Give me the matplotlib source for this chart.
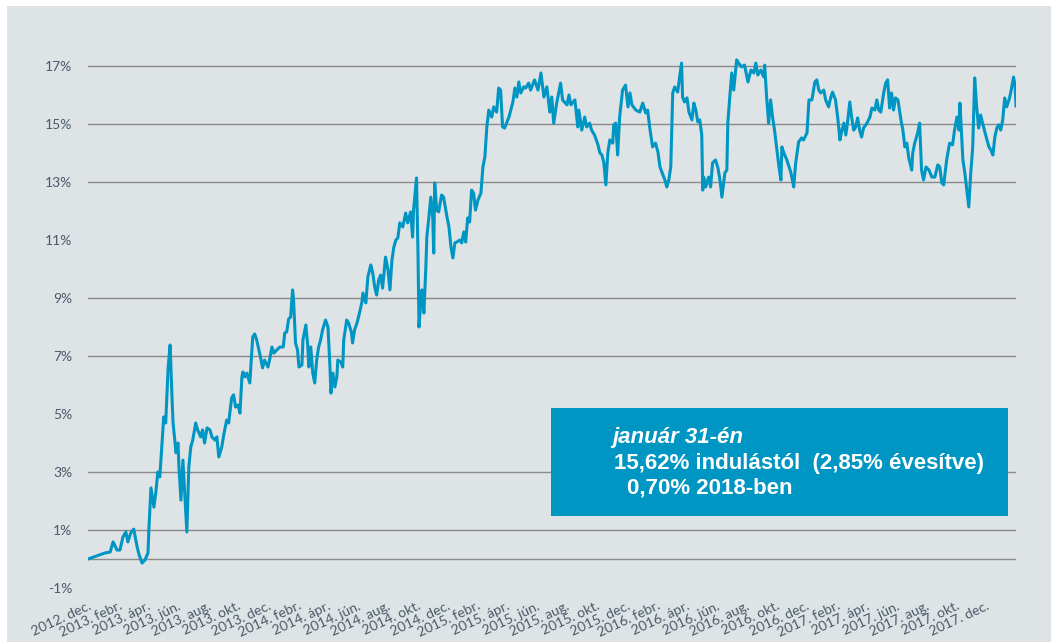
import numpy as np
import pandas as pd
import matplotlib
matplotlib.use("Agg")
import matplotlib.pyplot as plt
from matplotlib.patches import Rectangle

# cumulative return of the fund (%)
dates = [
    "2012-12-01", "2013-01-05", "2013-01-15", "2013-01-21", "2013-01-29", "2013-02-04", "2013-02-10", "2013-02-16",
    "2013-02-20", "2013-02-26", "2013-03-04", "2013-03-11", "2013-03-15", "2013-03-21", "2013-03-27", "2013-04-02",
    "2013-04-04", "2013-04-08", "2013-04-14", "2013-04-18", "2013-04-22", "2013-04-26", "2013-04-30", "2013-05-04",
    "2013-05-08", "2013-05-13", "2013-05-17", "2013-05-21", "2013-05-23", "2013-05-29", "2013-06-02", "2013-06-04",
    "2013-06-08", "2013-06-12", "2013-06-16", "2013-06-20", "2013-06-24", "2013-06-28", "2013-07-02", "2013-07-08",
    "2013-07-12", "2013-07-18", "2013-07-22", "2013-07-26", "2013-07-31", "2013-08-06", "2013-08-10", "2013-08-16",
    "2013-08-20", "2013-08-24", "2013-08-30", "2013-09-03", "2013-09-09", "2013-09-13", "2013-09-19", "2013-09-23",
    "2013-09-27", "2013-10-02", "2013-10-06", "2013-10-10", "2013-10-12", "2013-10-16", "2013-10-20", "2013-10-26",
    "2013-11-01", "2013-11-05", "2013-11-09", "2013-11-15", "2013-11-21", "2013-11-25", "2013-12-02", "2013-12-06",
    "2013-12-10", "2013-12-14", "2013-12-20", "2013-12-26", "2014-01-02", "2014-01-05", "2014-01-09", "2014-01-13",
    "2014-01-17", "2014-01-21", "2014-01-23", "2014-01-27", "2014-01-31", "2014-02-03", "2014-02-09", "2014-02-11",
    "2014-02-17", "2014-02-21", "2014-02-23", "2014-02-27", "2014-03-03", "2014-03-07", "2014-03-11", "2014-03-15",
    "2014-03-19", "2014-03-23", "2014-03-29", "2014-04-03", "2014-04-07", "2014-04-09", "2014-04-13", "2014-04-17",
    "2014-04-21", "2014-04-23", "2014-04-29", "2014-05-03", "2014-05-05", "2014-05-11", "2014-05-15", "2014-05-21",
    "2014-05-23", "2014-05-27", "2014-06-01", "2014-06-05", "2014-06-11", "2014-06-13", "2014-06-19", "2014-06-23",
    "2014-06-29", "2014-07-03", "2014-07-07", "2014-07-11", "2014-07-15", "2014-07-19", "2014-07-23", "2014-07-29",
    "2014-08-03", "2014-08-07", "2014-08-11", "2014-08-15", "2014-08-19", "2014-08-23", "2014-08-27", "2014-09-02",
    "2014-09-08", "2014-09-12", "2014-09-18", "2014-09-22", "2014-09-24", "2014-09-30", "2014-10-03", "2014-10-05",
    "2014-10-09", "2014-10-11", "2014-10-15", "2014-10-19", "2014-10-21", "2014-10-25", "2014-10-29", "2014-11-02",
    "2014-11-04", "2014-11-06", "2014-11-10", "2014-11-14", "2014-11-20", "2014-11-24", "2014-12-01", "2014-12-05",
    "2014-12-09", "2014-12-13", "2014-12-17", "2014-12-21", "2014-12-27", "2014-12-31", "2015-01-04", "2015-01-08",
    "2015-01-12", "2015-01-16", "2015-01-20", "2015-01-24", "2015-01-28", "2015-02-02", "2015-02-08", "2015-02-12",
    "2015-02-16", "2015-02-20", "2015-02-24", "2015-03-02", "2015-03-06", "2015-03-12", "2015-03-16", "2015-03-20",
    "2015-03-24", "2015-03-28", "2015-04-06", "2015-04-14", "2015-04-18", "2015-04-22", "2015-04-26", "2015-04-30",
    "2015-05-06", "2015-05-10", "2015-05-16", "2015-05-20", "2015-05-28", "2015-06-04", "2015-06-10", "2015-06-16",
    "2015-06-22", "2015-06-28", "2015-07-02", "2015-07-06", "2015-07-12", "2015-07-20", "2015-07-24", "2015-08-02",
    "2015-08-06", "2015-08-10", "2015-08-18", "2015-08-24", "2015-08-26", "2015-09-01", "2015-09-07", "2015-09-11",
    "2015-09-17", "2015-09-21", "2015-09-27", "2015-10-04", "2015-10-08", "2015-10-12", "2015-10-16", "2015-10-20",
    "2015-10-24", "2015-10-28", "2015-11-03", "2015-11-05", "2015-11-09", "2015-11-13", "2015-11-17", "2015-11-23",
    "2015-11-29", "2015-12-04", "2015-12-08", "2015-12-12", "2015-12-20", "2015-12-28", "2016-01-03", "2016-01-09",
    "2016-01-13", "2016-01-17", "2016-01-23", "2016-01-29", "2016-02-03", "2016-02-07", "2016-02-11", "2016-02-17",
    "2016-02-21", "2016-02-25", "2016-02-29", "2016-03-04", "2016-03-08", "2016-03-14", "2016-03-18", "2016-03-22",
    "2016-03-24", "2016-03-28", "2016-04-02", "2016-04-06", "2016-04-12", "2016-04-16", "2016-04-20", "2016-04-24",
    "2016-04-28", "2016-05-02", "2016-05-04", "2016-05-06", "2016-05-10", "2016-05-16", "2016-05-20", "2016-05-24",
    "2016-05-30", "2016-06-04", "2016-06-08", "2016-06-12", "2016-06-18", "2016-06-22", "2016-06-24", "2016-06-28",
    "2016-07-02", "2016-07-06", "2016-07-12", "2016-07-16", "2016-07-22", "2016-07-28", "2016-08-04", "2016-08-10",
    "2016-08-16", "2016-08-20", "2016-08-24", "2016-08-30", "2016-09-05", "2016-09-07", "2016-09-11", "2016-09-15",
    "2016-09-19", "2016-09-23", "2016-09-27", "2016-10-02", "2016-10-06", "2016-10-10", "2016-10-12", "2016-10-16",
    "2016-10-22", "2016-10-30", "2016-11-05", "2016-11-09", "2016-11-15", "2016-11-21", "2016-11-25", "2016-12-02",
    "2016-12-06", "2016-12-12", "2016-12-18", "2016-12-22", "2016-12-26", "2016-12-30", "2017-01-05", "2017-01-09",
    "2017-01-15", "2017-01-19", "2017-01-23", "2017-01-29", "2017-02-03", "2017-02-07", "2017-02-11", "2017-02-15",
    "2017-02-19", "2017-02-23", "2017-02-27", "2017-03-03", "2017-03-07", "2017-03-11", "2017-03-15", "2017-03-19",
    "2017-03-23", "2017-03-27", "2017-04-03", "2017-04-09", "2017-04-13", "2017-04-19", "2017-04-23", "2017-04-27",
    "2017-05-01", "2017-05-07", "2017-05-11", "2017-05-15", "2017-05-19", "2017-05-23", "2017-05-27", "2017-05-31",
    "2017-06-05", "2017-06-11", "2017-06-15", "2017-06-19", "2017-06-23", "2017-06-27", "2017-07-03", "2017-07-05",
    "2017-07-09", "2017-07-15", "2017-07-19", "2017-07-23", "2017-07-27", "2017-08-01", "2017-08-07", "2017-08-13",
    "2017-08-19", "2017-08-25", "2017-08-29", "2017-09-02", "2017-09-06", "2017-09-12", "2017-09-18", "2017-09-24",
    "2017-09-28", "2017-10-03", "2017-10-07", "2017-10-09", "2017-10-13", "2017-10-15", "2017-10-19", "2017-10-23",
    "2017-10-27", "2017-10-31", "2017-11-04", "2017-11-08", "2017-11-12", "2017-11-16", "2017-11-20", "2017-11-24",
    "2017-12-03", "2017-12-07", "2017-12-11", "2017-12-15", "2017-12-19", "2017-12-23", "2017-12-27", "2017-12-31",
    "2018-01-04", "2018-01-08", "2018-01-12", "2018-01-18", "2018-01-22", "2018-01-26", "2018-01-29", "2018-01-31",
]
values = [
    0.00, 0.21, 0.24, 0.59, 0.31, 0.31, 0.76, 0.93,
    0.59, 0.90, 1.03, 0.41, 0.14, -0.14, -0.03, 0.21,
    1.10, 2.45, 1.79, 2.31, 3.00, 2.83, 3.86, 4.90,
    4.69, 6.62, 7.38, 5.48, 4.69, 3.66, 4.00, 3.17,
    2.03, 3.41, 2.14, 0.93, 3.17, 3.86, 4.10, 4.69,
    4.45, 4.21, 4.45, 4.00, 4.52, 4.45, 4.21, 4.10,
    4.21, 3.52, 3.86, 4.28, 4.79, 4.69, 5.55, 5.66,
    5.24, 5.31, 5.03, 6.28, 6.45, 6.28, 6.41, 6.07,
    7.66, 7.76, 7.55, 7.10, 6.59, 6.86, 6.62, 6.93,
    7.31, 7.10, 7.21, 7.31, 7.31, 7.79, 7.83, 8.28,
    8.34, 9.28, 8.93, 7.45, 7.21, 6.62, 6.69, 7.55,
    8.07, 7.31, 6.62, 7.31, 6.41, 6.07, 6.86, 7.31,
    7.55, 7.90, 8.24, 8.00, 6.62, 5.72, 6.41, 5.93,
    6.28, 6.86, 6.79, 6.62, 7.55, 8.24, 8.14, 7.79,
    7.45, 7.90, 8.14, 8.41, 8.86, 9.17, 8.83, 9.72,
    10.14, 9.86, 9.38, 9.10, 9.62, 9.79, 9.34, 10.41,
    9.97, 9.28, 10.31, 10.76, 11.00, 11.07, 11.59, 11.45,
    11.93, 11.59, 11.97, 11.10, 12.03, 13.14, 10.55, 8.00,
    8.93, 9.28, 8.48, 10.07, 11.10, 11.76, 12.48, 11.79,
    10.55, 12.97, 12.03, 11.97, 12.55, 12.48, 11.79, 11.45,
    10.76, 10.38, 10.90, 10.93, 11.00, 10.90, 11.28, 10.93,
    11.76, 11.62, 12.72, 12.62, 12.03, 12.38, 12.62, 13.52,
    13.86, 14.90, 15.48, 15.24, 15.59, 15.41, 16.24, 16.17,
    14.90, 14.86, 15.24, 15.76, 16.24, 15.93, 16.45, 16.07,
    16.28, 16.24, 16.41, 16.17, 16.52, 16.17, 16.76, 15.93,
    16.28, 15.41, 15.93, 15.03, 15.72, 16.41, 15.83, 15.66,
    16.00, 15.66, 15.83, 14.90, 15.48, 14.79, 15.24, 14.90,
    15.03, 14.79, 14.62, 14.28, 14.00, 13.93, 13.66, 12.90,
    14.00, 14.45, 14.34, 14.97, 15.03, 13.93, 15.24, 16.17,
    16.34, 15.59, 16.07, 15.66, 15.48, 15.41, 15.72, 15.38,
    15.48, 14.90, 14.21, 14.34, 14.03, 13.52, 13.34, 13.07,
    12.83, 13.07, 13.52, 16.07, 16.28, 16.10, 16.62, 17.10,
    15.93, 15.76, 15.90, 15.41, 15.14, 15.72, 15.48, 15.07,
    15.14, 14.62, 12.72, 13.17, 12.83, 13.17, 12.83, 13.66,
    13.76, 13.48, 13.07, 12.48, 13.31, 13.41, 15.03, 15.93,
    16.76, 16.17, 17.21, 17.10, 16.97, 17.03, 16.45, 16.86,
    16.76, 17.10, 16.69, 16.86, 16.62, 17.03, 15.90, 15.03,
    15.83, 15.24, 14.79, 14.10, 13.52, 13.07, 14.21, 14.00,
    13.76, 13.34, 12.83, 13.66, 14.38, 14.52, 14.45, 14.69,
    15.83, 15.83, 16.45, 16.52, 16.17, 16.07, 16.17, 15.83,
    15.59, 15.90, 16.10, 15.83, 15.14, 14.45, 14.79, 15.03,
    14.62, 15.14, 15.76, 15.21, 14.79, 14.90, 15.21, 14.79,
    14.55, 14.86, 15.03, 15.24, 15.55, 15.48, 15.83, 15.48,
    15.41, 16.07, 16.41, 16.52, 15.55, 16.07, 15.48, 15.90,
    15.83, 15.14, 14.79, 14.21, 14.34, 13.83, 13.41, 14.00,
    14.34, 14.69, 15.03, 13.41, 13.07, 13.52, 13.41, 13.17,
    13.17, 13.59, 13.52, 12.97, 12.90, 13.76, 14.34, 14.28,
    14.79, 15.24, 14.79, 15.72, 14.45, 13.76, 13.31, 12.72,
    12.14, 13.31, 14.21, 16.59, 15.59, 14.86, 15.31, 15.03,
    14.45, 14.21, 14.10, 13.93, 14.55, 14.86, 14.97, 14.79,
    15.14, 15.90, 15.59, 15.90, 16.24, 16.62, 16.34, 15.62,
]

y_ticks = [-1, 1, 3, 5, 7, 9, 11, 13, 15, 17]
grid_levels = [0, 1, 3, 7, 9, 13, 15, 17]

tick_dates = ["2012-12-01"] + [f"{y}-{m:02d}-01" for y in range(2013, 2018) for m in (2, 4, 6, 8, 10, 12)]
tick_labels = ["2012. dec."] + [f"{y}. {m}" for y in range(2013, 2018)
                                for m in ("febr.", "ápr.", "jún.", "aug.", "okt.", "dec.")]

box_lines = ["január 31-én", "15,62% indulástól  (2,85% évesítve)", "0,70% 2018-ben"]

bg = "#DEE3E6"
blue = "#0096C4"
txt = "#4A5A68"

assert len(dates) == len(values)
x = pd.to_datetime(dates)

fig = plt.figure(figsize=(10.51, 6.42), dpi=100, facecolor="white")
fig.patches.append(Rectangle((7 / 1051, 0), 1 - 7 / 1051, 1 - 6 / 642,
                             transform=fig.transFigure, facecolor=bg, edgecolor="none", zorder=-5))

ax = fig.add_axes([88 / 1051, 54 / 642, 928 / 1051, 565.5 / 642])
ax.set_facecolor("none")

for lvl in grid_levels:
    ax.axhline(lvl, color="#8A8A8A", lw=1.0, zorder=1)

ax.plot(x, values, color=blue, lw=2.2, zorder=3, solid_joinstyle="round")

ax.set_xlim(pd.Timestamp("2012-12-01"), pd.Timestamp("2018-01-31"))
ax.set_ylim(-1, 18.5)

ax.set_yticks(y_ticks)
ax.set_yticklabels([f"{v}%" for v in y_ticks], fontsize=10, color=txt, family="Lato")
ax.set_xticks(pd.to_datetime(tick_dates))
ax.set_xticklabels(tick_labels, rotation=25, ha="right", va="top", rotation_mode="anchor",
                   fontsize=10, color=txt, family="Lato")
ax.tick_params(axis="y", length=0, pad=11.5)
ax.tick_params(axis="x", length=0, pad=8.5)
for s in ax.spines.values():
    s.set_visible(False)

# info box
fig.patches.append(Rectangle((551 / 1051, 1 - 516 / 642), 457 / 1051, 108 / 642,
                             transform=fig.transFigure, facecolor=blue, edgecolor="none", zorder=5))
fig.text(612 / 1051, 1 - 438 / 642, box_lines[0], color="white", fontsize=16, fontweight="bold",
         style="italic", family="Liberation Sans", va="center", ha="left", zorder=6)
fig.text(614 / 1051, 1 - 463 / 642, box_lines[1], color="white", fontsize=16, fontweight="bold",
         family="Liberation Sans", va="center", ha="left", zorder=6)
fig.text(627 / 1051, 1 - 488 / 642, box_lines[2], color="white", fontsize=16, fontweight="bold",
         family="Liberation Sans", va="center", ha="left", zorder=6)

fig.savefig("out.png", dpi=100, facecolor=fig.get_facecolor())
